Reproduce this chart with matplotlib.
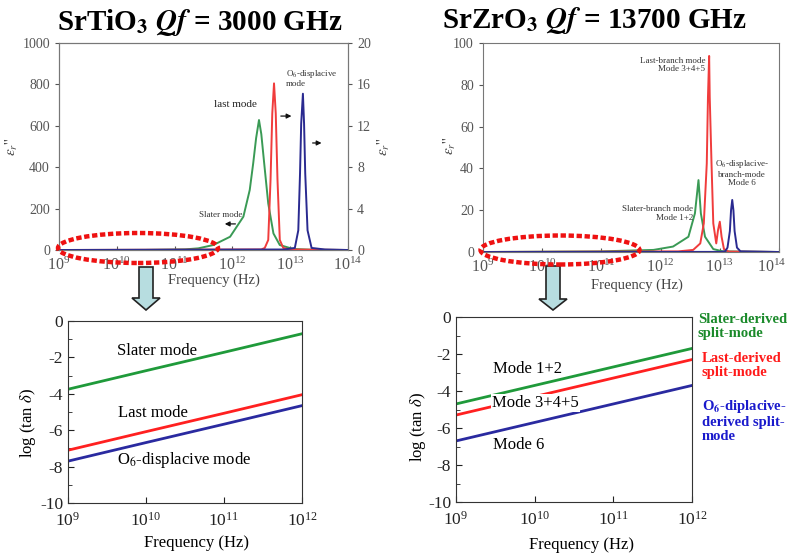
import numpy as np
import matplotlib.pyplot as plt
from matplotlib.patches import Ellipse, Polygon
from matplotlib.ticker import FixedLocator, NullLocator, LogFormatterMathtext
from matplotlib.transforms import ScaledTranslation

plt.rcParams['font.family'] = 'Liberation Serif'
plt.rcParams['mathtext.fontset'] = 'stix'
plt.rcParams['axes.unicode_minus'] = False

# ---- SrTiO3, eps'' spectra (log10 f, value) ----
sti_slater_logf = [9.0, 10.5, 11.18, 11.41, 11.67, 11.96, 12.19, 12.30, 12.36, 12.41, 12.46, 12.50, 12.55, 12.62, 12.71, 12.82, 13.05, 13.4, 14.0]
sti_slater_eps = [0, 0.5, 3, 8, 24, 64, 161, 290, 419, 540, 628, 560, 419, 225, 80, 24, 5, 1, 0]
sti_last_logf = [9.0, 12.50, 12.56, 12.62, 12.66, 12.69, 12.72, 12.75, 12.78, 12.82, 12.88, 13.0, 14.0]
sti_last_eps = [0, 0.05, 0.2, 0.97, 6.8, 13.2, 16.1, 13.2, 6.8, 0.97, 0.2, 0.05, 0]
sti_o6_logf = [9.0, 12.9, 13.08, 13.14, 13.17, 13.19, 13.22, 13.24, 13.26, 13.30, 13.37, 13.6, 14.0]
sti_o6_eps = [0, 0.05, 0.2, 1.9, 7.4, 12.2, 15.1, 12.2, 7.4, 1.9, 0.2, 0.05, 0]

# ---- SrZrO3, eps'' spectra ----
szo_slater_logf = [9.0, 11.0, 11.88, 12.21, 12.47, 12.58, 12.64, 12.68, 12.75, 12.89, 13.05, 14.0]
szo_slater_eps = [0, 0.3, 1.0, 2.6, 7.3, 18.5, 34.4, 18.5, 7.3, 1.4, 0.3, 0]
szo_last_logf = [9.0, 12.3, 12.55, 12.67, 12.73, 12.78, 12.80, 12.82, 12.83, 12.86, 12.89, 12.94, 12.97, 13.00, 13.03, 13.07, 13.15, 14.0]
szo_last_eps = [0, 0.3, 1.0, 4.1, 13.7, 42.4, 74, 93.8, 74, 42.4, 13.7, 4.1, 10.5, 14.5, 7.3, 1.4, 0.2, 0]
szo_o6_logf = [9.0, 13.0, 13.09, 13.13, 13.17, 13.19, 13.21, 13.23, 13.25, 13.29, 13.35, 14.0]
szo_o6_eps = [0, 0.05, 0.3, 2.1, 10, 20, 24.9, 20, 10, 2.1, 0.3, 0]

# ---- log(tan delta) vs frequency ----
decades = [9, 10, 11, 12]
sti_tan_slater = [-3.75, -2.73, -1.72, -0.7]
sti_tan_last = [-7.1, -6.08, -5.07, -4.05]
sti_tan_o6 = [-7.7, -6.68, -5.67, -4.65]
szo_tan_slater = [-4.7, -3.7, -2.7, -1.7]
szo_tan_last = [-5.3, -4.3, -3.3, -2.3]
szo_tan_o6 = [-6.7, -5.7, -4.7, -3.7]

GREEN_T, RED_T, BLUE_T = '#3a9a55', '#f03c3c', '#2a2a90'
GREEN_B, RED_B, BLUE_B = '#1f9a3a', '#ff2020', '#2a2aa0'
GRAY = '#555555'

W, H = 789, 554
fig = plt.figure(figsize=(W / 100, H / 100), dpi=100)


def rect(x0, y0, x1, y1):
    return [x0 / W, 1 - y1 / H, (x1 - x0) / W, (y1 - y0) / H]


def hz(logs):
    return [10 ** v for v in logs]


def style_top(ax, color=GRAY):
    ax.set_xscale('log')
    ax.set_xlim(1e9, 1e14)
    ax.xaxis.set_major_locator(FixedLocator([10.0 ** k for k in range(9, 15)]))
    ax.xaxis.set_minor_locator(NullLocator())
    ax.xaxis.set_major_formatter(LogFormatterMathtext())
    ax.tick_params(axis='x', direction='in', length=3, labelsize=11.5, colors=color, pad=5)
    ax.tick_params(axis='y', direction='out', length=3, labelsize=10, colors=color)
    for s in ax.spines.values():
        s.set_color('#777777')


# ================= top-left: SrTiO3 =================
ax1 = fig.add_axes(rect(59, 43, 348, 250))
ax1.plot(hz(sti_slater_logf), sti_slater_eps, color=GREEN_T, lw=1.4)
style_top(ax1)
ax1.set_ylim(0, 1000)
ax1.set_yticks([0, 200, 400, 600, 800, 1000])
ax1.set_xlabel('Frequency (Hz)', fontsize=10.5, color='#444444')
ax1.xaxis.set_label_coords(0.536, -0.115)
ax1.set_ylabel(r"$\varepsilon_r$''", fontsize=11, color='#444444')
ax1.yaxis.set_label_coords(-0.135, 0.5)

ax1r = ax1.twinx()
ax1r.plot(hz(sti_last_logf), sti_last_eps, color=RED_T, lw=1.4)
ax1r.plot(hz(sti_o6_logf), sti_o6_eps, color=BLUE_T, lw=1.4)
ax1r.set_ylim(0, 20)
ax1r.set_yticks([0, 4, 8, 12, 16, 20])
ax1r.tick_params(axis='y', direction='out', length=3, labelsize=10, colors=GRAY)
ax1r.set_ylabel(r"$\varepsilon_r$''", fontsize=11, color='#444444', rotation=90)
ax1r.yaxis.set_label_coords(1.095, 0.5)
for s in ax1r.spines.values():
    s.set_color('#777777')

ax1.text(10 ** 12.06, 705, 'last mode', fontsize=8, ha='center', va='center', color='#222222')
ax1.text(10 ** 12.93, 880, 'O$_6$-displacive\nmode', fontsize=6.5, ha='left', va='top',
         color='#333333', linespacing=1.0)
ax1.text(10 ** 11.80, 169, 'Slater mode', fontsize=6.5, ha='center', va='center', color='#333333')
arw = dict(arrowstyle='-|>', color='#111111', lw=0.9, mutation_scale=7)
ax1.annotate('', xy=(10 ** 13.07, 647), xytext=(10 ** 12.79, 647), arrowprops=arw)
ax1.annotate('', xy=(10 ** 13.59, 517), xytext=(10 ** 13.34, 517), arrowprops=arw)
ax1.annotate('', xy=(10 ** 11.82, 126), xytext=(10 ** 12.10, 126), arrowprops=arw)

# ================= top-right: SrZrO3 =================
ax2 = fig.add_axes(rect(483, 43, 779, 252))
ax2.plot(hz(szo_slater_logf), szo_slater_eps, color=GREEN_T, lw=1.4)
ax2.plot(hz(szo_last_logf), szo_last_eps, color=RED_T, lw=1.4)
ax2.plot(hz(szo_o6_logf), szo_o6_eps, color=BLUE_T, lw=1.4)
style_top(ax2)
ax2.set_ylim(0, 100)
ax2.set_yticks([0, 20, 40, 60, 80, 100])
ax2.set_xlabel('Frequency (Hz)', fontsize=10.5, color='#444444')
ax2.xaxis.set_label_coords(0.52, -0.125)
ax2.set_ylabel(r"$\varepsilon_r$''", fontsize=11, color='#444444')
ax2.yaxis.set_label_coords(-0.084, 0.51)
# keep the last tick label inside the figure edge
last_lbl = ax2.get_xticklabels()[-1]
last_lbl.set_transform(last_lbl.get_transform() + ScaledTranslation(-0.07, 0, fig.dpi_scale_trans))

ax2.text(10 ** 12.75, 93.5, 'Last-branch mode\nMode 3+4+5', fontsize=6.5, ha='right', va='top',
         multialignment='right', color='#333333', linespacing=1.1)
ax2.text(10 ** 13.375, 45, 'O$_6$-displacive-\nbranch-mode\nMode 6', fontsize=6.5, ha='center',
         va='top', multialignment='center', color='#333333', linespacing=1.1)
ax2.text(10 ** 12.55, 22.5, 'Slater-branch mode\nMode 1+2', fontsize=6.5, ha='right', va='top',
         multialignment='right', color='#333333', linespacing=1.1)


def style_bottom(ax):
    ax.set_xscale('log')
    ax.set_xlim(1e9, 1e12)
    ax.xaxis.set_major_locator(FixedLocator([1e9, 1e10, 1e11, 1e12]))
    ax.xaxis.set_minor_locator(NullLocator())
    ax.xaxis.set_major_formatter(LogFormatterMathtext())
    ax.set_ylim(-10, 0)
    ax.set_yticks([0, -2, -4, -6, -8, -10])
    ax.set_yticks(np.arange(-9, 0, 2), minor=True)
    ax.tick_params(which='both', direction='in', labelsize=12.5, colors='#222222')
    ax.tick_params(which='major', length=4)
    ax.tick_params(which='minor', length=3)
    ax.tick_params(axis='x', pad=6)
    ax.set_xlabel('Frequency (Hz)', fontsize=12)
    ax.set_ylabel(r'log (tan $\delta$)', fontsize=12)
    for s in ax.spines.values():
        s.set_color('#333333')


# ================= bottom-left =================
ax3 = fig.add_axes(rect(68, 321, 302, 503))
ax3.plot(hz(decades), sti_tan_slater, color=GREEN_B, lw=2)
ax3.plot(hz(decades), sti_tan_last, color=RED_B, lw=2)
ax3.plot(hz(decades), sti_tan_o6, color=BLUE_B, lw=2)
style_bottom(ax3)
ax3.xaxis.set_label_coords(0.55, -0.175)
ax3.yaxis.set_label_coords(-0.13, 0.44)
ax3.text(10 ** 9.63, -1.65, 'Slater mode', fontsize=12, va='center')
ax3.text(10 ** 9.64, -5.05, 'Last mode', fontsize=12, va='center')
ax3.text(10 ** 9.63, -7.64, 'O$_6$-displacive mode', fontsize=12, va='center')

# ================= bottom-right =================
ax4 = fig.add_axes(rect(456, 317, 692, 502))
ax4.plot(hz(decades), szo_tan_slater, color=GREEN_B, lw=2)
ax4.plot(hz(decades), szo_tan_last, color=RED_B, lw=2)
ax4.plot(hz(decades), szo_tan_o6, color=BLUE_B, lw=2)
style_bottom(ax4)
ax4.xaxis.set_label_coords(0.53, -0.19)
ax4.yaxis.set_label_coords(-0.12, 0.405)
ax4.text(10 ** 9.47, -2.81, 'Mode 1+2', fontsize=12, va='center')
ax4.text(10 ** 9.46, -4.65, 'Mode 3+4+5', fontsize=12, va='center', zorder=5,
         bbox=dict(boxstyle='square,pad=0.05', fc='white', ec='none'))
ax4.text(10 ** 9.47, -6.92, 'Mode 6', fontsize=12, va='center')

# side labels
fig.text(698 / W, 1 - 313 / H, 'Slater-derived\nsplit-mode', fontsize=10.5, fontweight='bold',
         color='#1a8a2a', va='top', linespacing=1.1)
fig.text(702 / W, 1 - 352 / H, 'Last-derived\nsplit-mode', fontsize=10.5, fontweight='bold',
         color='#ff1a1a', va='top', linespacing=1.1)
fig.text(702 / W, 1 - 398 / H, 'O$_\\mathbf{6}$-diplacive-\nderived split-\nmode', fontsize=10.5,
         fontweight='bold', color='#1a1acc', va='top', linespacing=1.1)

# titles
fig.text(200 / W, 1 - 22 / H, r'SrTiO$_\mathbf{3}$ $\mathbfit{Qf}$ = 3000 GHz', fontsize=21,
         fontweight='bold', ha='center', va='center')
fig.text(595 / W, 1 - 20 / H, r'SrZrO$_\mathbf{3}$ $\mathbfit{Qf}$ = 13700 GHz', fontsize=21,
         fontweight='bold', ha='center', va='center')

# red dotted ellipses
for cx, cy, ew, eh in [(138, 248, 160, 30), (560, 250, 159, 29)]:
    fig.patches.append(Ellipse((cx / W, 1 - cy / H), ew / W, eh / H, transform=fig.transFigure,
                               fill=False, ec='#ee1111', lw=3.2, ls=(0, (1.2, 0.6)), zorder=10))

# block arrows pointing down
for cx, ytop, yhead, ytip in [(146, 267, 298, 310), (553, 266, 299, 310)]:
    pts = [(cx - 7, ytop), (cx + 7, ytop), (cx + 7, yhead), (cx + 14, yhead), (cx, ytip),
           (cx - 14, yhead), (cx - 7, yhead)]
    fig.patches.append(Polygon([(x / W, 1 - y / H) for x, y in pts], closed=True,
                               transform=fig.transFigure, fc='#b7dde0', ec='#222222', lw=1.2,
                               zorder=9))

fig.savefig('out.png', dpi=100)
